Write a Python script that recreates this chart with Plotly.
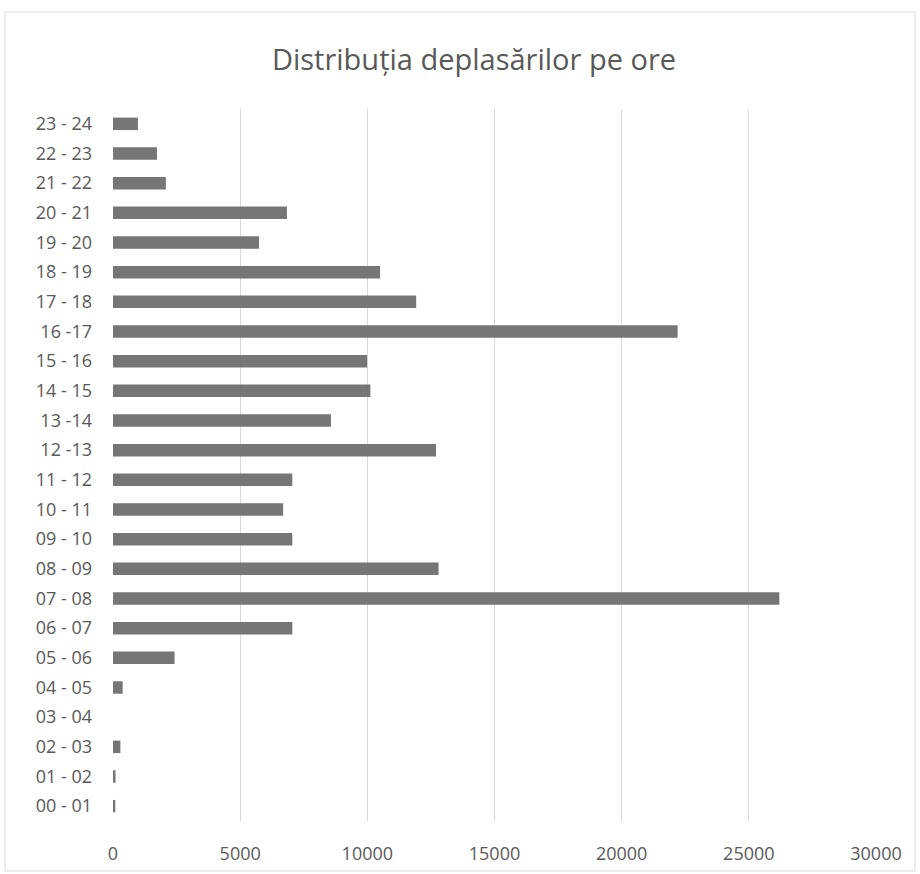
import plotly.graph_objects as go

categories = ["00 - 01", "01 - 02", "02 - 03", "03 - 04", "04 - 05", "05 - 06",
              "06 - 07", "07 - 08", "08 - 09", "09 - 10", "10 - 11", "11 - 12",
              "12 -13", "13 -14", "14 - 15", "15 - 16", "16 -17", "17 - 18",
              "18 - 19", "19 - 20", "20 - 21", "21 - 22", "22 - 23", "23 - 24"]
values = [90, 100, 290, 0, 380, 2420,
          7050, 26200, 12800, 7050, 6690, 7050,
          12700, 8570, 10120, 9990, 22200, 11920,
          10500, 5740, 6840, 2080, 1730, 980]
x_ticks = [0, 5000, 10000, 15000, 20000, 25000, 30000]
title_text = "Distribuția deplasărilor pe ore"

W, H = 920, 874
L, R, T, B = 113, 44, 109, 53
pw, ph = W - L - R, H - T - B

fig = go.Figure(go.Bar(
    x=values, y=categories, orientation="h",
    marker=dict(color="#767676", line=dict(width=0)),
    width=0.42,
))

def px2paper_x(px):
    return (px - L) / pw

def px2paper_y(py):
    return (H - B - py) / ph

fig.update_layout(
    width=W, height=H,
    margin=dict(l=L, r=R, t=T, b=B),
    paper_bgcolor="white", plot_bgcolor="white",
    font=dict(family="Open Sans, sans-serif", color="#595959", size=18),
    title=dict(text=title_text, x=474 / W, xanchor="center",
               y=1 - 60 / H, yanchor="middle",
               font=dict(size=29, color="#595959")),
    showlegend=False,
    xaxis=dict(range=[0, 30000], tickvals=x_ticks, ticktext=[str(v) for v in x_ticks],
               showgrid=True, gridcolor="#d9d9d9", gridwidth=1, zeroline=False,
               showline=False, ticks="", ticklabelstandoff=20, automargin=False,
               tickfont=dict(size=18, color="#595959")),
    yaxis=dict(categoryorder="array", categoryarray=categories,
               range=[-0.5, len(categories) - 0.5], automargin=False,
               showgrid=False, zeroline=False, showline=False, ticks="",
               ticklabelstandoff=20, tickfont=dict(size=18, color="#595959")),
    shapes=[dict(type="rect", xref="paper", yref="paper",
                 x0=px2paper_x(5), x1=px2paper_x(915),
                 y0=px2paper_y(871), y1=px2paper_y(12),
                 line=dict(color="#d9d9d9", width=1), fillcolor="rgba(0,0,0,0)",
                 layer="below")],
)

fig.write_html("out.html")
